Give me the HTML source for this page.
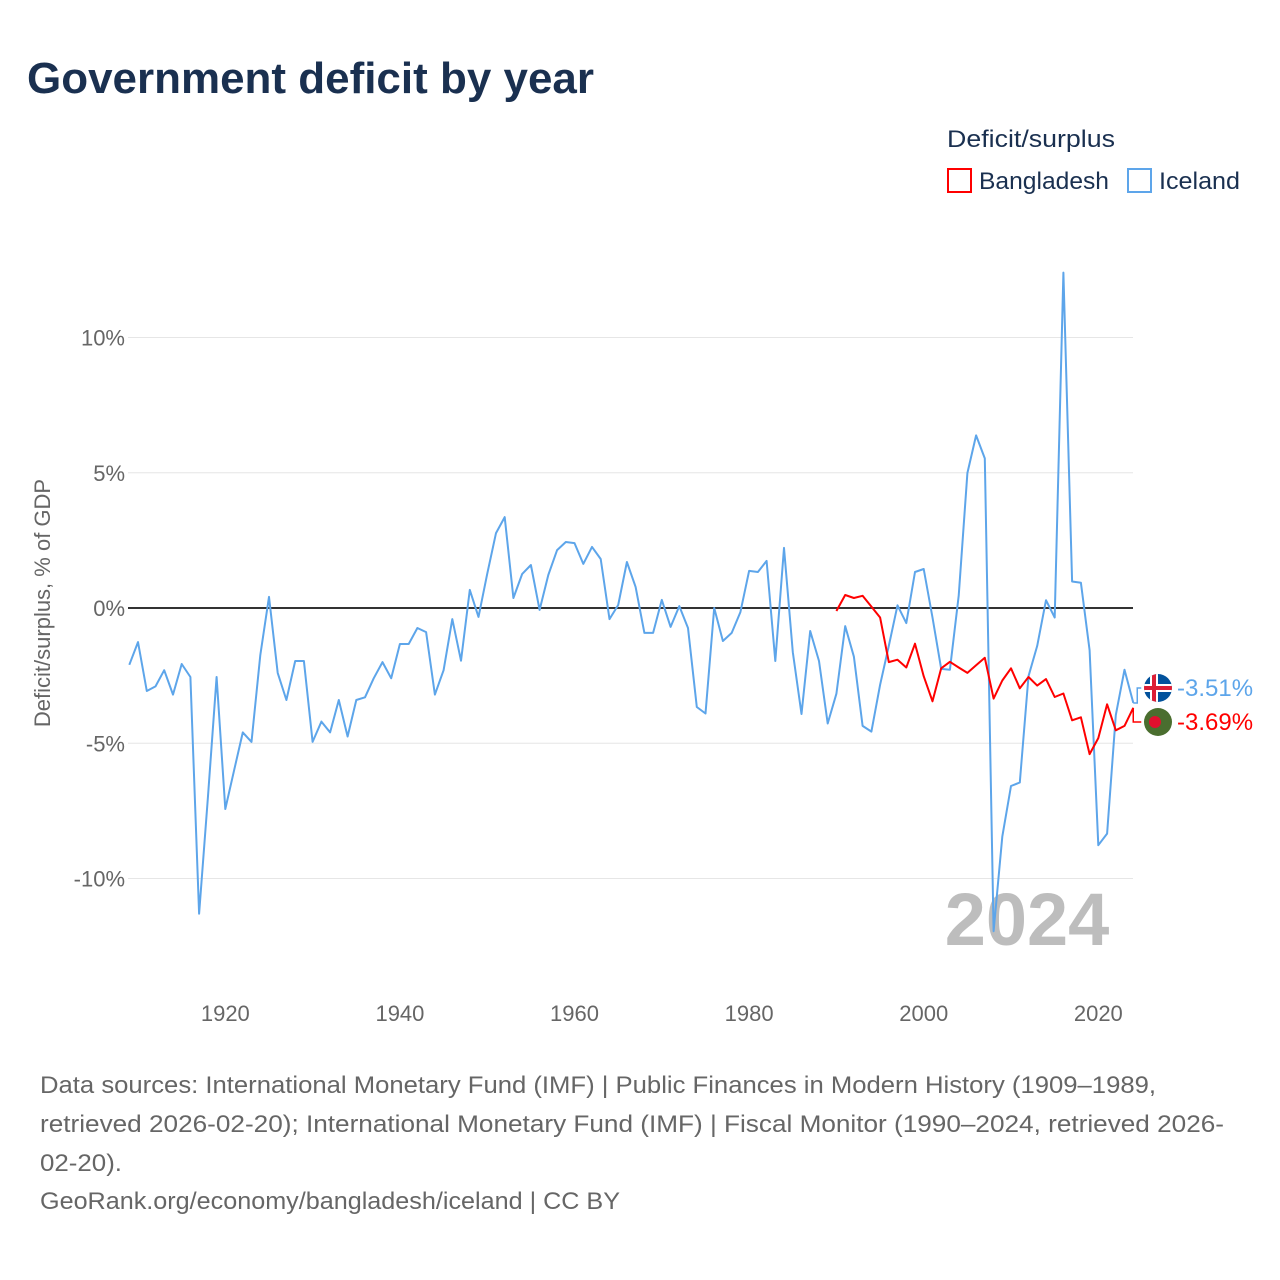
<!DOCTYPE html>
<html><head><meta charset="utf-8"><style>
body{margin:0;background:#fff}
svg{display:block;font-family:"Liberation Sans",sans-serif}
</style></head><body>
<svg id="chart" width="1280" height="1280" viewBox="0 0 1280 1280">
<text x="27" y="93" font-size="44" font-weight="bold" fill="#1a3050" textLength="567" lengthAdjust="spacingAndGlyphs">Government deficit by year</text>
<g>
<text x="947" y="147" font-size="24" fill="#1a3050" textLength="168" lengthAdjust="spacingAndGlyphs">Deficit/surplus</text>
<g><rect x="948" y="169" width="23" height="23" fill="none" stroke="#ff0000" stroke-width="2"/><text x="979" y="189" font-size="24" fill="#1a3050" textLength="130" lengthAdjust="spacingAndGlyphs">Bangladesh</text></g>
<g><rect x="1128" y="169" width="23" height="23" fill="none" stroke="#5da5ea" stroke-width="2"/><text x="1159" y="189" font-size="24" fill="#1a3050" textLength="81" lengthAdjust="spacingAndGlyphs">Iceland</text></g>
</g>
<g id="grid"></g>
<g id="yticks"></g>
<g id="xticks"></g>
<text transform="translate(50,603) rotate(-90)" text-anchor="middle" font-size="22" fill="#666">Deficit/surplus, % of GDP</text>
<text x="1027" y="945" text-anchor="middle" font-size="74" font-weight="bold" fill="#bdbdbd">2024</text>
<g id="series"></g>
<g id="ends"></g>
<g font-size="24" fill="#666">
<text x="40" y="1093" textLength="1116" lengthAdjust="spacingAndGlyphs">Data sources: International Monetary Fund (IMF) | Public Finances in Modern History (1909–1989,</text>
<text x="40" y="1132" textLength="1184" lengthAdjust="spacingAndGlyphs">retrieved 2026-02-20); International Monetary Fund (IMF) | Fiscal Monitor (1990–2024, retrieved 2026-</text>
<text x="40" y="1171" textLength="82" lengthAdjust="spacingAndGlyphs">02-20).</text>
<text x="40" y="1209" textLength="580" lengthAdjust="spacingAndGlyphs">GeoRank.org/economy/bangladesh/iceland | CC BY</text>
</g>
</svg>
<script>
const yTicks=[10,5,0,-5,-10];
const yTickLabels=["10%","5%","0%","-5%","-10%"];
const xTicks=[1920,1940,1960,1980,2000,2020];
const icelandStart=1909;
const icelandValues=[-2.1,-1.26,-3.07,-2.9,-2.3,-3.2,-2.07,-2.55,-11.3,-7.0,-2.55,-7.43,-6.0,-4.6,-4.95,-1.74,0.41,-2.4,-3.4,-1.96,-1.96,-4.95,-4.2,-4.6,-3.4,-4.75,-3.4,-3.3,-2.6,-2.0,-2.6,-1.33,-1.33,-0.74,-0.89,-3.2,-2.3,-0.41,-1.95,0.67,-0.33,1.26,2.77,3.36,0.37,1.26,1.59,-0.07,1.22,2.14,2.44,2.4,1.63,2.26,1.81,-0.41,0.11,1.7,0.78,-0.92,-0.92,0.3,-0.7,0.07,-0.74,-3.66,-3.9,0,-1.22,-0.92,-0.15,1.37,1.33,1.74,-1.96,2.22,-1.63,-3.92,-0.85,-1.96,-4.27,-3.17,-0.67,-1.8,-4.36,-4.57,-2.84,-1.4,0.1,-0.56,1.33,1.44,-0.35,-2.25,-2.28,0.45,4.99,6.38,5.53,-11.95,-8.45,-6.58,-6.45,-2.52,-1.4,0.29,-0.35,12.4,0.98,0.93,-1.56,-8.77,-8.34,-3.96,-2.28,-3.51];
const bangladeshStart=1990;
const bangladeshValues=[-0.11,0.48,0.37,0.45,0.05,-0.35,-2.0,-1.91,-2.2,-1.32,-2.52,-3.45,-2.23,-1.99,-2.2,-2.4,-2.12,-1.84,-3.35,-2.68,-2.23,-2.97,-2.55,-2.87,-2.63,-3.29,-3.16,-4.15,-4.04,-5.4,-4.81,-3.56,-4.52,-4.36,-3.69];
const NS="http://www.w3.org/2000/svg";
const x=yr=>129.3+(yr-1909)*8.73;
const y=v=>608-v*27.05;
function mk(tag,attrs,parent){const e=document.createElementNS(NS,tag);for(const k in attrs)e.setAttribute(k,attrs[k]);parent.appendChild(e);return e;}
const grid=document.getElementById('grid'),yt=document.getElementById('yticks'),xt=document.getElementById('xticks');
yTicks.forEach((v,i)=>{
  const l=mk('line',{x1:128,x2:1133,y1:y(v),y2:y(v),stroke:v===0?'#333':'#e6e6e6','stroke-width':v===0?2:1},grid);
  
  
  const t=mk('text',{x:125,y:y(v)+8,'text-anchor':'end','font-size':22,fill:'#666'},yt);
  t.textContent=yTickLabels[i];
  
  
});
xTicks.forEach(yr=>{
  const t=mk('text',{x:x(yr),y:1021,'text-anchor':'middle','font-size':22,fill:'#666'},xt);
  t.textContent=yr;
  
  
});
const ser=document.getElementById('series');
function line(vals,start,color,name){
  const d=vals.map((v,i)=>(i?'L':'M')+x(start+i).toFixed(1)+','+y(v).toFixed(1)).join('');
  const p=mk('path',{d:d,fill:'none',stroke:color,'stroke-width':2,'stroke-linejoin':'round'},ser);
  
  
}
line(icelandValues,icelandStart,'#5da5ea','iceland-line');
line(bangladeshValues,bangladeshStart,'#ff0000','bangladesh-line');
const ends=document.getElementById('ends');
const lastI=icelandValues[icelandValues.length-1],lastB=bangladeshValues[bangladeshValues.length-1];
const xe=x(2024);
// iceland
mk('path',{d:`M${xe},${y(lastI)}H${xe+4}V688H${xe+8}`,fill:'none',stroke:'#5da5ea','stroke-width':1.5},ends);
const gi=mk('g',{},ends);


mk('clipPath',{id:'ci'},gi).appendChild(document.createElementNS(NS,'circle')).setAttribute('r','14');
document.querySelector('#ci circle').setAttribute('cx','1158');document.querySelector('#ci circle').setAttribute('cy','688');
const gic=mk('g',{'clip-path':'url(#ci)'},gi);
mk('rect',{x:1144,y:674,width:28,height:28,fill:'#02529c'},gic);
mk('rect',{x:1144,y:684,width:28,height:8,fill:'#fff'},gic);
mk('rect',{x:1150,y:674,width:8,height:28,fill:'#fff'},gic);
mk('rect',{x:1144,y:686,width:28,height:4,fill:'#dc1e35'},gic);
mk('rect',{x:1152,y:674,width:4,height:28,fill:'#dc1e35'},gic);
const ti=mk('text',{x:1177,y:696,'font-size':24,fill:'#5da5ea'},ends);
ti.textContent=lastI.toFixed(2)+'%';


// bangladesh
mk('path',{d:`M${xe},${y(lastB)}V722H${xe+8}`,fill:'none',stroke:'#ff0000','stroke-width':1.5},ends);
const gb=mk('g',{},ends);


mk('circle',{cx:1158,cy:722,r:14,fill:'#4a6e2f'},gb);
mk('circle',{cx:1155,cy:722,r:6,fill:'#e0102e'},gb);
const tb=mk('text',{x:1177,y:730,'font-size':24,fill:'#ff0000'},ends);
tb.textContent=lastB.toFixed(2)+'%';


</script>
</body></html>
